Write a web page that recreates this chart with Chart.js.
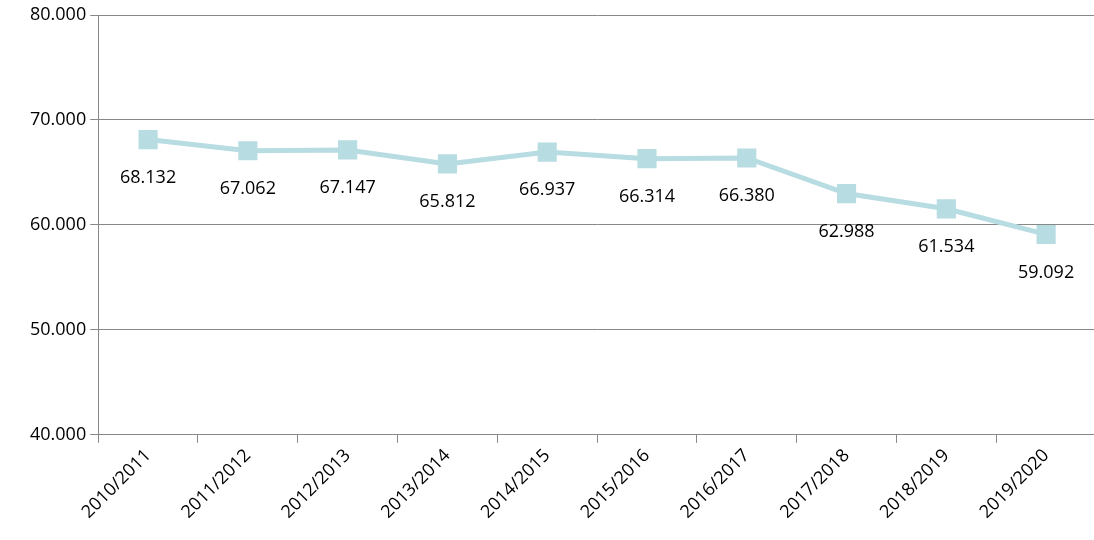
<!DOCTYPE html>
<html>
<head>
<meta charset="utf-8">
<script src="https://cdn.jsdelivr.net/npm/chart.js@4"></script>
<style>
  html, body { margin: 0; padding: 0; background: #ffffff; overflow: hidden; }
  #wrap { width: 1111px; height: 540px; }
  canvas { display: block; }
</style>
</head>
<body>
<div id="wrap"><canvas id="chart"></canvas></div>
<script>
const categories = ['2010/2011', '2011/2012', '2012/2013', '2013/2014', '2014/2015',
    '2015/2016', '2016/2017', '2017/2018', '2018/2019', '2019/2020'];
const values = [68132, 67062, 67147, 65812, 66937, 66314, 66380, 62988, 61534, 59092];
const yTicks = [40000, 50000, 60000, 70000, 80000];

const fontFamily = '"Open Sans", "Liberation Sans", sans-serif';
const lineColor = '#b7dce2';
const fmt = (v) => v.toLocaleString('de-DE', { minimumFractionDigits: 0 });

const pointLabels = {
    id: 'pointLabels',
    afterDatasetsDraw(chart) {
        const ctx = chart.ctx;
        const meta = chart.getDatasetMeta(0);
        ctx.save();
        ctx.font = '18px ' + fontFamily;
        ctx.fillStyle = '#000000';
        ctx.textAlign = 'center';
        ctx.textBaseline = 'middle';
        meta.data.forEach((pt, i) => {
            ctx.fillText(fmt(values[i]), pt.x, pt.y + 38);
        });
        ctx.restore();
    }
};

new Chart(document.getElementById('chart'), {
    type: 'line',
    data: {
        labels: categories,
        datasets: [{
            data: values,
            borderColor: lineColor,
            backgroundColor: lineColor,
            borderWidth: 5,
            pointStyle: 'rect',
            pointRadius: 10,
            pointHoverRadius: 10,
            pointBackgroundColor: lineColor,
            pointBorderColor: lineColor,
            tension: 0
        }]
    },
    options: {
        responsive: true,
        maintainAspectRatio: false,
        animation: false,
        layout: { padding: { top: 11, right: 1, left: 26, bottom: 15 } },
        plugins: { legend: { display: false }, tooltip: { enabled: false } },
        scales: {
            x: {
                offset: true,
                grid: {
                    display: true,
                    offset: true,
                    drawOnChartArea: false,
                    tickLength: 8,
                    color: '#888888'
                },
                border: { color: '#888888' },
                ticks: {
                    color: '#000000',
                    font: { family: fontFamily, size: 18 },
                    maxRotation: 45,
                    minRotation: 45,
                    padding: 2
                }
            },
            y: {
                min: 40000,
                max: 80000,
                afterBuildTicks(axis) { axis.ticks = yTicks.map((v) => ({ value: v })); },
                grid: { color: '#888888', tickLength: 8 },
                border: { color: '#888888' },
                ticks: {
                    color: '#000000',
                    font: { family: fontFamily, size: 18 },
                    padding: 4,
                    callback: (v) => fmt(v)
                }
            }
        }
    },
    plugins: [pointLabels]
});
</script>
</body>
</html>
